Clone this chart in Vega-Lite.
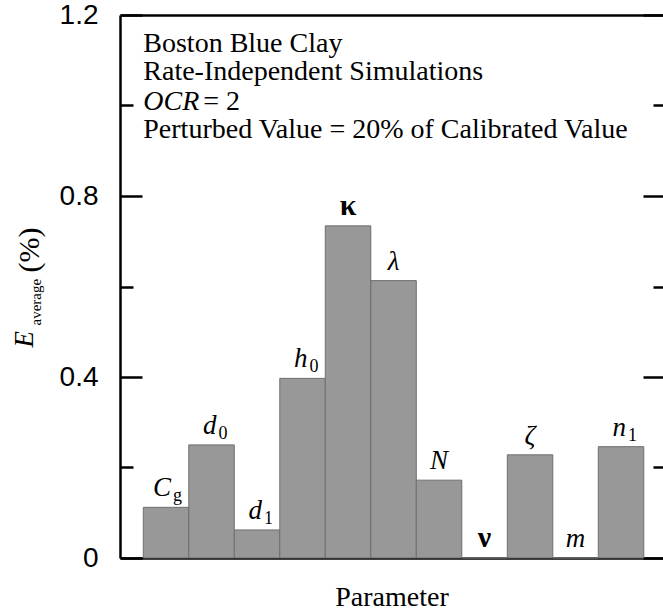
{
  "$schema": "https://vega.github.io/schema/vega-lite/v6.json",
  "width": 543,
  "height": 543,
  "autosize": {"type": "none"},
  "padding": {"left": 120, "top": 15, "right": 0, "bottom": 57},
  "background": "white",
  "config": {
    "view": {"stroke": null},
    "font": "Liberation Serif",
    "text": {"font": "Liberation Serif", "color": "black"},
    "axis": {
      "grid": false,
      "domainColor": "black",
      "domainWidth": 2.5,
      "tickColor": "black",
      "tickWidth": 2.5,
      "labelColor": "black",
      "titleColor": "black",
      "titleFont": "Liberation Serif",
      "titleFontWeight": "normal"
    }
  },
  "datasets": {
    "params": [
      {"param": "Cg", "value": 0.112, "sym": "C", "sub": "g"},
      {"param": "d0", "value": 0.25, "sym": "d", "sub": "0"},
      {"param": "d1", "value": 0.062, "sym": "d", "sub": "1"},
      {"param": "h0", "value": 0.397, "sym": "h", "sub": "0"},
      {"param": "kappa", "value": 0.734, "sym": "κ", "sub": ""},
      {"param": "lambda", "value": 0.613, "sym": "λ", "sub": ""},
      {"param": "N", "value": 0.172, "sym": "N", "sub": ""},
      {"param": "nu", "value": 0, "sym": "ν", "sub": ""},
      {"param": "zeta", "value": 0.228, "sym": "ζ", "sub": ""},
      {"param": "m", "value": 0, "sym": "m", "sub": ""},
      {"param": "n1", "value": 0.246, "sym": "n", "sub": "1"}
    ]
  },
  "data": {"name": "params"},
  "resolve": {"axis": {"x": "independent", "y": "independent"}},
  "layer": [
    {
      "mark": {"type": "bar", "fill": "#989898", "stroke": "#6f6f6f", "strokeWidth": 1},
      "encoding": {
        "x": {
          "field": "param", "type": "nominal", "sort": null,
          "scale": {
            "domain": ["Cg", "d0", "d1", "h0", "kappa", "lambda", "N", "nu", "zeta", "m", "n1"],
            "paddingInner": 0, "paddingOuter": 0.467, "align": 0.548
          },
          "axis": {
            "orient": "bottom", "labels": false, "ticks": false,
            "title": "Parameter", "titleFontSize": 28, "titleBaseline": "alphabetic", "titleY": 47
          }
        },
        "y": {
          "field": "value", "type": "quantitative",
          "scale": {"domain": [0, 1.2], "nice": false},
          "axis": {
            "orient": "left", "values": [0, 0.4, 0.8, 1.2], "format": "~g", "ticks": false,
            "labelPadding": 22, "labelFont": "Liberation Sans", "labelFontSize": 28,
            "title": "E", "titleFontStyle": "italic", "titleFontSize": 27,
            "titleX": -88, "titleY": 332, "titleAlign": "left", "titleBaseline": "alphabetic", "titleAngle": 270
          }
        }
      }
    },
    {
      "transform": [{"filter": "datum.sub != ''"}],
      "mark": {"type": "text", "font": "Liberation Serif", "fontStyle": "italic", "fontSize": 27, "align": "right", "baseline": "alphabetic", "dx": 5, "dy": -11},
      "encoding": {
        "x": {"field": "param", "type": "nominal", "sort": null,
          "axis": {"orient": "top", "labels": false, "ticks": false, "title": null}},
        "y": {"field": "value", "type": "quantitative",
          "axis": {
            "orient": "left", "values": [0, 0.4, 0.8, 1.2], "tickSize": -22, "labels": false, "domain": false,
            "title": "average", "titleFontSize": 15,
            "titleX": -80, "titleY": 310, "titleAlign": "left", "titleBaseline": "alphabetic", "titleAngle": 270
          }},
        "text": {"field": "sym", "type": "nominal"}
      }
    },
    {
      "transform": [{"filter": "datum.sub == '' && datum.param != 'kappa' && datum.param != 'nu'"}],
      "mark": {"type": "text", "font": "Liberation Serif", "fontStyle": "italic", "fontSize": 27, "align": "center", "baseline": "alphabetic", "dy": -11},
      "encoding": {
        "x": {"field": "param", "type": "nominal", "sort": null, "axis": null},
        "y": {"field": "value", "type": "quantitative",
          "axis": {
            "orient": "left", "values": [0.2, 0.6, 1.0], "tickSize": -13, "labels": false, "domain": false,
            "title": "(%)", "titleFontSize": 30,
            "titleX": -82, "titleY": 257, "titleAlign": "left", "titleBaseline": "alphabetic", "titleAngle": 270
          }},
        "text": {"field": "sym", "type": "nominal"}
      }
    },
    {
      "transform": [{"filter": "datum.param == 'kappa' || datum.param == 'nu'"}],
      "mark": {"type": "text", "font": "Liberation Serif", "fontWeight": "bold", "fontSize": 30, "align": "center", "baseline": "alphabetic", "dy": -11},
      "encoding": {
        "x": {"field": "param", "type": "nominal", "sort": null, "axis": null},
        "y": {"field": "value", "type": "quantitative",
          "axis": {"orient": "right", "values": [0, 0.4, 0.8, 1.2], "tickSize": -20, "labels": false, "domain": false, "title": null}},
        "text": {"field": "sym", "type": "nominal"}
      }
    },
    {
      "transform": [{"filter": "datum.sub != ''"}],
      "mark": {"type": "text", "font": "Liberation Serif", "fontSize": 18, "align": "left", "baseline": "alphabetic", "dx": 7, "dy": -6},
      "encoding": {
        "x": {"field": "param", "type": "nominal", "sort": null, "axis": null},
        "y": {"field": "value", "type": "quantitative",
          "axis": {"orient": "right", "values": [0.2, 0.6, 1.0], "tickSize": -10, "labels": false, "domain": false, "title": null}},
        "text": {"field": "sub", "type": "nominal"}
      }
    },
    {
      "data": {"values": [{}]},
      "mark": {"type": "text", "font": "Liberation Serif", "fontSize": 28, "align": "left", "baseline": "alphabetic", "lineHeight": 28.8},
      "encoding": {
        "x": {"datum": "Cg", "type": "nominal", "bandPosition": 0, "axis": null},
        "y": {"datum": 1.119, "type": "quantitative", "axis": null},
        "text": {"value": ["Boston Blue Clay", "Rate-Independent Simulations"]}
      }
    },
    {
      "data": {"values": [{}]},
      "mark": {"type": "text", "font": "Liberation Serif", "fontSize": 28, "fontStyle": "italic", "align": "left", "baseline": "alphabetic"},
      "encoding": {
        "x": {"datum": "Cg", "type": "nominal", "bandPosition": 0, "axis": null},
        "y": {"datum": 0.99, "type": "quantitative", "axis": null},
        "text": {"value": "OCR"}
      }
    },
    {
      "data": {"values": [{}]},
      "mark": {"type": "text", "font": "Liberation Serif", "fontSize": 28, "align": "left", "baseline": "alphabetic", "dx": 60},
      "encoding": {
        "x": {"datum": "Cg", "type": "nominal", "bandPosition": 0, "axis": null},
        "y": {"datum": 0.99, "type": "quantitative", "axis": null},
        "text": {"value": "= 2"}
      }
    },
    {
      "data": {"values": [{}]},
      "mark": {"type": "text", "font": "Liberation Serif", "fontSize": 28, "align": "left", "baseline": "alphabetic"},
      "encoding": {
        "x": {"datum": "Cg", "type": "nominal", "bandPosition": 0, "axis": null},
        "y": {"datum": 0.928, "type": "quantitative", "axis": null},
        "text": {"value": "Perturbed Value = 20% of Calibrated Value"}
      }
    }
  ]
}
